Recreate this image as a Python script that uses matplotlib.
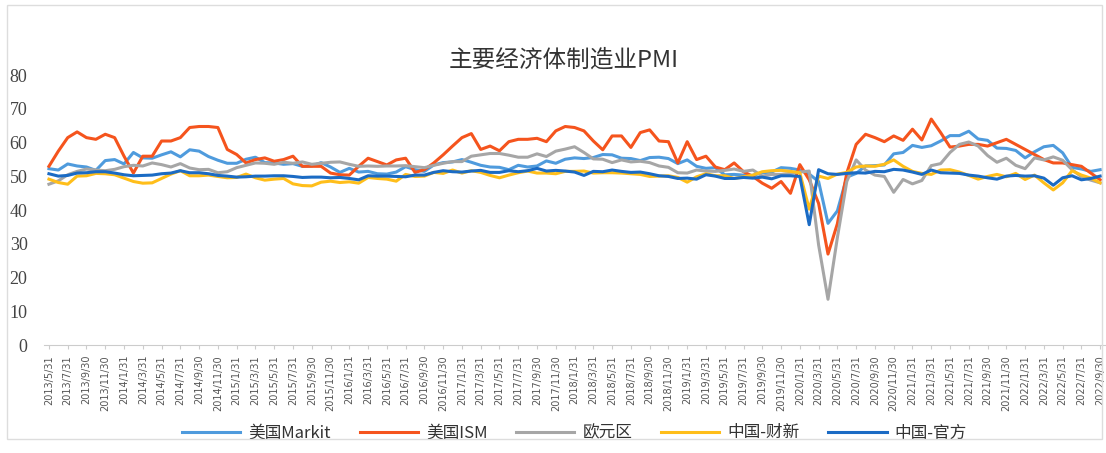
import pandas as pd
import matplotlib.pyplot as plt
from matplotlib.patches import Rectangle

plt.rcParams['font.family'] = ['Noto Sans CJK SC', 'DejaVu Sans']

# monthly, 2013/5/31 .. 2022/9/30
dates = pd.date_range("2013-05-31", periods=113, freq="ME")
labels = [f"{d.year}/{d.month}/{d.day}" for d in dates]

us_markit = [
    52.3, 51.9, 53.7, 53.1, 52.8, 51.8, 54.7, 55.0,
    53.7, 57.1, 55.5, 55.4, 56.4, 57.3, 55.8, 57.9, 57.5, 55.9, 54.8, 53.9,
    53.9, 55.1, 55.7, 54.1, 54.0, 53.6, 53.8, 53.0, 53.1, 54.1, 52.8, 51.2,
    52.4, 51.3, 51.5, 50.8, 50.7, 51.3, 52.9, 52.0, 51.5, 53.4, 54.1, 54.3,
    55.0, 54.2, 53.3, 52.8, 52.7, 52.0, 53.3, 52.8, 53.1, 54.6, 53.9, 55.1,
    55.5, 55.3, 55.6, 56.5, 56.4, 55.4, 55.3, 54.7, 55.6, 55.7, 55.3, 53.8,
    54.9, 53.0, 52.4, 52.6, 50.5, 50.6, 50.4, 50.3, 51.1, 51.3, 52.6, 52.4,
    51.9, 50.7, 48.5, 36.1, 39.8, 49.8, 50.9, 53.1, 53.2, 53.4, 56.7, 57.1,
    59.2, 58.6, 59.1, 60.5, 62.1, 62.1, 63.4, 61.1, 60.7, 58.4, 58.3, 57.7,
    55.5, 57.3, 58.8, 59.2, 57.0, 52.7, 52.2, 51.5, 52.0,
]

us_ism = [
    53.0, 57.5, 61.5, 63.2, 61.5, 61.0, 62.5, 61.5,
    56.0, 51.0, 56.0, 56.0, 60.5, 60.5, 61.5, 64.5, 64.8, 64.8, 64.5, 58.0,
    56.5, 54.0, 55.0, 55.5, 54.5, 55.0, 56.0, 53.0, 53.0, 53.0, 51.0, 50.5,
    50.4, 53.0, 55.4, 54.4, 53.4, 54.9, 55.4, 51.2, 52.0, 54.0, 56.4, 59.0,
    61.5, 62.7, 58.0, 59.0, 57.6, 60.3, 61.0, 61.0, 61.3, 60.3, 63.5, 64.8,
    64.5, 63.5, 60.5, 57.9, 62.0, 62.0, 58.6, 63.0, 63.8, 60.5, 60.3, 54.0,
    60.3, 55.0, 56.0, 52.8, 52.0, 54.0, 51.4, 50.0, 48.0, 46.5, 48.5, 45.0,
    53.5, 49.0, 42.0, 27.0, 36.0, 51.0, 59.5, 62.5, 61.5, 60.3, 62.0, 60.7,
    64.0, 60.8, 67.0, 63.0, 58.7, 59.0, 59.5, 59.5, 59.0, 60.0, 61.0, 59.5,
    58.0, 56.5, 55.0, 54.0, 54.0, 53.5, 53.0, 51.0, 49.0,
]

euro_area = [
    47.7, 48.7, 50.5, 51.5, 52.2, 51.9, 51.7, 52.1,
    52.9, 53.3, 53.1, 54.0, 53.5, 52.8, 53.8, 52.5, 52.0, 52.1, 51.1, 51.4,
    52.6, 53.3, 54.0, 53.9, 53.6, 54.2, 53.9, 54.3, 53.6, 53.9, 54.2, 54.3,
    53.6, 53.0, 53.1, 53.0, 53.1, 53.1, 53.2, 52.9, 52.6, 53.3, 53.9, 54.4,
    54.4, 56.0, 56.4, 56.8, 56.8, 56.3, 55.7, 55.7, 56.7, 55.9, 57.5, 58.1,
    58.8, 57.1, 55.2, 55.1, 54.1, 54.9, 54.3, 54.5, 54.1, 53.1, 52.7, 51.1,
    51.0, 51.9, 51.6, 51.5, 51.8, 52.2, 51.5, 51.9, 50.1, 50.6, 50.6, 50.9,
    51.3, 51.6, 29.7, 13.6, 31.9, 48.5, 54.9, 51.9, 50.4, 50.0, 45.3, 49.1,
    47.8, 48.8, 53.2, 53.8, 57.1, 59.5, 60.2, 59.0, 56.2, 54.2, 55.4, 53.3,
    52.3, 55.5, 54.9, 55.8, 54.8, 52.0, 49.9, 48.9, 48.1,
]

cn_caixin = [
    49.2, 48.2, 47.7, 50.1, 50.2, 50.9, 50.8, 50.5,
    49.5, 48.5, 48.0, 48.1, 49.4, 50.7, 51.7, 50.2, 50.2, 50.4, 50.0, 49.6,
    49.7, 50.7, 49.6, 48.9, 49.2, 49.4, 47.8, 47.3, 47.2, 48.3, 48.6, 48.2,
    48.4, 48.0, 49.7, 49.4, 49.2, 48.6, 50.6, 50.0, 50.1, 51.2, 50.9, 51.9,
    51.0, 51.7, 51.2, 50.3, 49.6, 50.4, 51.1, 51.6, 51.0, 51.0, 50.8, 51.5,
    51.5, 51.6, 51.0, 51.1, 51.1, 51.0, 50.8, 50.6, 50.0, 50.1, 50.2, 49.7,
    48.3, 49.9, 50.8, 50.2, 50.2, 49.4, 49.9, 50.4, 51.4, 51.7, 51.8, 51.5,
    51.1, 40.3, 50.1, 49.4, 50.7, 51.2, 52.8, 53.1, 53.0, 53.6, 54.9, 53.0,
    51.5, 50.9, 50.6, 51.9, 52.0, 51.3, 50.3, 49.2, 50.0, 50.6, 49.9, 50.9,
    49.1, 50.4, 48.1, 46.0, 48.1, 51.7, 50.4, 49.5, 48.1,
]

cn_official = [
    50.8, 50.1, 50.3, 51.0, 51.1, 51.4, 51.4, 51.0,
    50.5, 50.2, 50.3, 50.4, 50.8, 51.0, 51.7, 51.1, 51.1, 50.8, 50.3, 50.1,
    49.8, 49.9, 50.1, 50.1, 50.2, 50.2, 50.0, 49.7, 49.8, 49.8, 49.6, 49.7,
    49.4, 49.0, 50.2, 50.1, 50.1, 50.0, 49.9, 50.4, 50.4, 51.2, 51.7, 51.4,
    51.3, 51.6, 51.8, 51.2, 51.2, 51.7, 51.4, 51.7, 52.4, 51.6, 51.8, 51.6,
    51.3, 50.3, 51.5, 51.4, 51.9, 51.5, 51.2, 51.3, 50.8, 50.2, 50.0, 49.4,
    49.5, 49.2, 50.5, 50.1, 49.4, 49.4, 49.7, 49.5, 49.8, 49.3, 50.2, 50.2,
    50.0, 35.7, 52.0, 50.8, 50.6, 50.9, 51.1, 51.0, 51.5, 51.4, 52.1, 51.9,
    51.3, 50.6, 51.9, 51.1, 51.0, 50.9, 50.4, 50.1, 49.6, 49.2, 50.1, 50.3,
    50.1, 50.2, 49.5, 47.4, 49.6, 50.2, 49.0, 49.4, 50.1,
]

series = [
    ("美国Markit", us_markit, "#4F9BDD"),
    ("美国ISM", us_ism, "#F5541D"),
    ("欧元区", euro_area, "#A6A6A6"),
    ("中国-财新", cn_caixin, "#FFBE1A"),
    ("中国-官方", cn_official, "#1B6BC4"),
]

fig = plt.figure(figsize=(11.06, 4.53), dpi=100)
ax = fig.add_axes([0.040, 0.238, 0.959, 0.596])

x = range(len(labels))
for name, vals, color in series:
    ax.plot(x, vals, color=color, linewidth=2.2, label=name)

ax.set_ylim(0, 80)
ax.set_yticks(range(0, 81, 10))
ax.set_xlim(-0.5, len(labels) - 0.5)
ax.set_xticks(range(0, len(labels), 2))
ax.set_xticklabels(labels[::2], rotation=90, fontsize=7, color="#555555",
                   family=["DejaVu Sans"])
for t in ax.get_yticklabels():
    t.set_family(["Liberation Serif"])
    t.set_fontsize(13)
    t.set_color("#444444")
ax.tick_params(axis="y", length=0, pad=12)
ax.tick_params(axis="x", length=3, color="#cccccc", pad=4)

for s in ["top", "right", "left"]:
    ax.spines[s].set_visible(False)
ax.spines["bottom"].set_color("#cccccc")

fig.text(0.51, 0.868, "主要经济体制造业PMI", ha="center", va="center",
         fontsize=17, color="#333333")

ax.legend(loc="center", bbox_to_anchor=(0.5, -0.325), ncol=5, frameon=False,
          fontsize=12, handlelength=3.5, columnspacing=1.7, handletextpad=0.5,
          labelcolor="#333333")

fig.patches.append(Rectangle((0.006, 0.03), 0.99, 0.96, transform=fig.transFigure,
                             fill=False, edgecolor="#dddddd", linewidth=1))

fig.savefig("out.png", dpi=100)
